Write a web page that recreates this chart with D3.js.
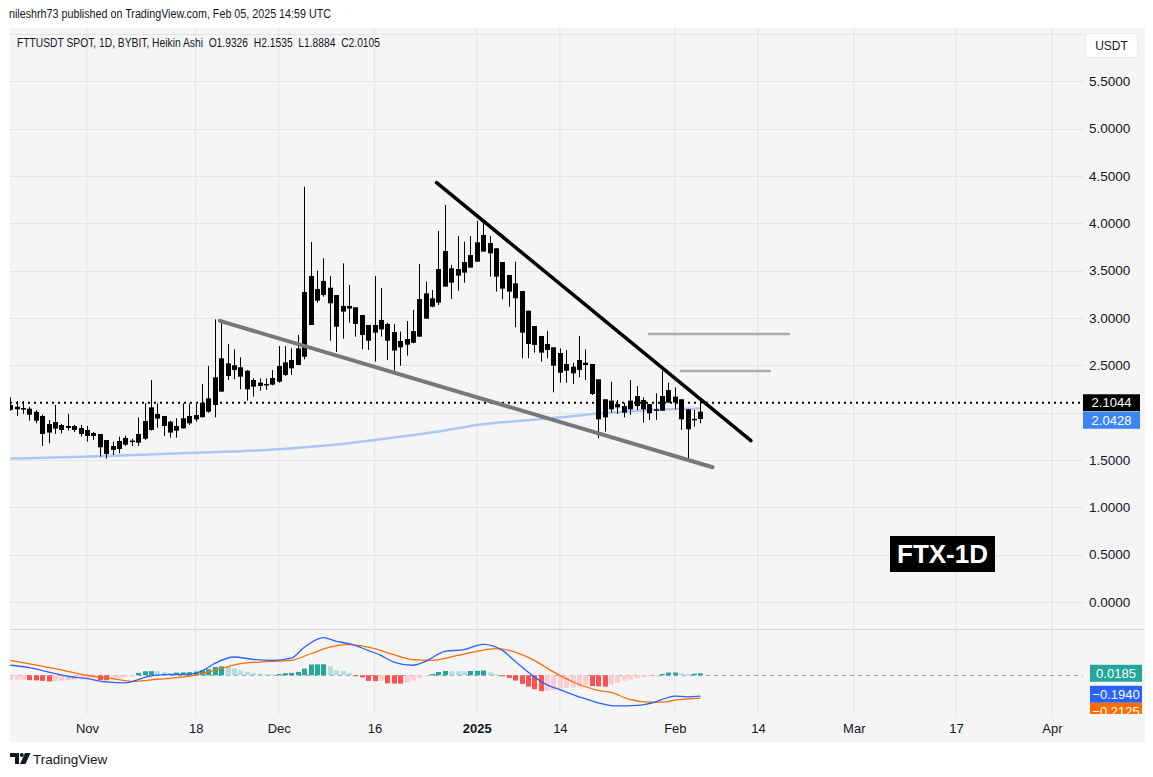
<!DOCTYPE html>
<html><head><meta charset="utf-8">
<script src="https://cdn.jsdelivr.net/npm/d3@7"></script>
<style>
body{margin:0;background:#fff;}
svg{display:block;font-family:"Liberation Sans",Arial,sans-serif;}
.pre{white-space:pre;}
</style></head>
<body><svg id="chart" width="1153" height="777"></svg>
<script>
// ---------- DATA ----------
const startDay = "2024-10-20";
const opens = [2.08,2.063,2.049,2.042,2.01,1.965,1.88,1.831,1.87,1.838,
1.859,1.838,1.817,1.785,1.775,1.711,1.606,1.616,1.662,1.698,
1.683,1.725,1.817,1.937,1.965,1.905,1.81,1.834,1.887,1.929,
1.951,2.01,2.081,2.222,2.521,2.5,2.479,2.443,2.275,2.282,
2.289,2.296,2.327,2.398,2.468,2.503,2.591,2.926,3.306,3.243,
3.32,3.243,3.067,3.099,3.113,3.032,2.926,2.845,2.88,2.937,
2.852,2.757,2.718,2.739,2.803,2.993,3.208,3.162,3.331,3.525,
3.447,3.479,3.532,3.595,3.701,3.792,3.736,3.591,3.454,3.366,
3.285,3.077,2.915,2.81,2.725,2.69,2.63,2.514,2.486,2.45,
2.503,2.514,2.352,2.141,2.035,2.056,2.07,2.035,2.07,2.134,
2.091,2.035,2.021,2.106,2.169,2.141,2.035,1.935,1.9326];
const highs = [2.16,2.123,2.123,2.063,2.028,1.979,1.922,2.081,1.88,1.986,
1.87,1.87,1.859,1.796,1.775,1.711,1.694,1.747,1.757,1.725,
1.95,2.1,2.345,2.098,1.965,1.915,1.94,2.098,2.098,2.091,
2.303,2.493,2.986,2.979,2.725,2.669,2.584,2.45,2.363,2.363,
2.363,2.45,2.704,2.704,2.679,2.82,4.387,3.803,3.5,3.63,
3.444,3.243,3.577,3.348,3.113,3.032,2.926,3.444,3.317,2.951,
2.937,2.856,2.968,3.085,3.57,3.384,3.296,3.919,4.194,3.56,
3.866,3.806,3.866,4.025,4.017,3.866,3.736,3.591,3.454,3.595,
3.285,3.077,2.915,2.81,2.863,2.69,2.679,2.662,2.528,2.81,
2.669,2.514,2.352,2.141,2.327,2.134,2.105,2.345,2.281,2.162,
2.091,2.204,2.443,2.317,2.267,2.141,2.035,2.028,2.1535];
const lows = [2.02,1.965,1.986,1.915,1.887,1.648,1.676,1.775,1.782,1.81,
1.796,1.746,1.694,1.711,1.535,1.514,1.553,1.57,1.648,1.648,
1.648,1.711,1.81,1.841,1.753,1.736,1.736,1.834,1.87,1.905,
1.951,2.0,1.951,2.222,2.345,2.352,2.246,2.127,2.169,2.232,
2.239,2.289,2.317,2.387,2.398,2.503,2.563,2.926,3.162,3.225,
2.76,2.641,2.782,2.951,2.803,2.669,2.662,2.539,2.803,2.556,
2.443,2.496,2.602,2.732,2.803,2.993,3.113,3.137,3.331,3.2,
3.289,3.373,3.532,3.595,3.701,3.437,3.278,3.197,3.12,2.901,
2.574,2.574,2.634,2.539,2.574,2.215,2.317,2.317,2.303,2.373,
2.345,2.186,1.729,1.799,2.0,1.986,1.95,1.975,2.028,1.894,
1.922,1.922,2.021,2.106,2.035,1.817,1.507,1.852,1.8884];
const closes = [2.03,2.035,2.032,1.979,1.915,1.775,1.789,1.901,1.817,1.859,
1.817,1.775,1.754,1.754,1.634,1.563,1.648,1.701,1.733,1.705,
1.775,1.912,2.056,1.986,1.859,1.789,1.859,1.94,1.965,1.975,
2.105,2.151,2.373,2.574,2.387,2.45,2.38,2.246,2.345,2.317,
2.303,2.366,2.493,2.531,2.556,2.679,3.274,3.444,3.183,3.391,
3.155,2.908,3.127,3.127,2.937,2.82,2.76,2.926,2.979,2.76,
2.655,2.69,2.778,2.862,3.2,3.26,3.12,3.517,3.708,3.373,
3.517,3.591,3.665,3.799,3.877,3.683,3.437,3.31,3.278,3.208,
2.845,2.725,2.715,2.634,2.662,2.496,2.422,2.443,2.415,2.556,
2.528,2.197,1.929,1.95,2.127,2.091,2.0,2.127,2.176,2.035,
1.993,2.028,2.176,2.239,2.106,1.929,1.824,1.925,2.0105];

const maDays   = [0,14,30,42,46,52,61,67,73,80,86,92,100,108];
const maValues = [1.515,1.54,1.578,1.613,1.635,1.67,1.745,1.80,1.87,1.915,1.95,1.99,2.028,2.043];

const histValues = [-0.045,-0.044,-0.043,-0.046,-0.048,-0.052,-0.058,-0.054,-0.05,-0.046,
-0.042,-0.038,-0.034,-0.03,-0.045,-0.046,-0.035,-0.025,-0.018,-0.012,
0.022,0.037,0.038,0.036,0.03,0.022,0.025,0.027,0.029,0.034,
0.046,0.056,0.077,0.083,0.082,0.065,0.046,0.031,0.022,0.015,
0.01,0.008,0.012,0.019,0.022,0.031,0.062,0.1,0.101,0.102,
0.083,0.046,0.04,0.022,-0.006,-0.02,-0.052,-0.054,-0.05,-0.075,
-0.077,-0.078,-0.065,-0.05,-0.03,-0.008,0.012,0.03,0.04,0.038,
0.037,0.036,0.04,0.041,0.044,0.028,0.01,-0.01,-0.025,-0.05,
-0.08,-0.105,-0.13,-0.148,-0.145,-0.14,-0.125,-0.12,-0.115,-0.105,
-0.09,-0.1,-0.103,-0.106,-0.085,-0.068,-0.052,-0.038,-0.027,-0.018,
-0.01,-0.004,0.012,0.025,0.026,0.018,0.012,0.015,0.0185];
const macdDays   = [0,3,6,9,12,15,18,20,21,24,28,30,32,35,38,41,44,46,49,51,53,56,58,60,63,65,68,71,74,77,79,82,84,86,89,92,95,98,101,103,104,106,108];
const macdValues = [0.093,0.072,0.03,-0.01,-0.031,-0.062,-0.07,-0.04,-0.02,0.006,0.009,0.04,0.11,0.17,0.148,0.139,0.16,0.26,0.35,0.315,0.293,0.231,0.185,0.123,0.093,0.13,0.222,0.238,0.287,0.231,0.13,-0.015,-0.09,-0.133,-0.2,-0.256,-0.285,-0.28,-0.247,-0.205,-0.194,-0.2,-0.194];
const signalDays   = [0,7,12,16,19,23,28,30,33,36,39,44,47,50,53,57,60,63,66,70,73,76,79,82,85,88,92,94,97,100,102,104,108];
const signalValues = [0.139,0.062,0.0,-0.031,-0.056,-0.037,-0.009,0.015,0.062,0.108,0.123,0.139,0.2,0.262,0.284,0.247,0.191,0.145,0.139,0.185,0.222,0.247,0.216,0.139,0.031,-0.06,-0.14,-0.16,-0.225,-0.25,-0.25,-0.231,-0.2125];

// price-axis labels (2.0000 is hidden behind the value tags in the reference)
const priceTicks = [0,0.5,1,1.5,2.5,3,3.5,4,4.5,5,5.5];
const priceGrid  = [0,0.5,1,1.5,2,2.5,3,3.5,4,4.5,5,5.5,6];
const timeTicks  = ["2024-11-01","2024-11-18","2024-12-01","2024-12-16","2025-01-01","2025-01-14","2025-02-01","2025-02-14","2025-03-01","2025-03-17","2025-04-01"];
const timeLabels = ["Nov","18","Dec","16","2025","14","Feb","14","Mar","17","Apr"];

const trendUpper = [["2024-12-25T17:00:00Z",4.43],["2025-02-12T21:30:00Z",1.704]];
const trendLower = [["2024-11-21T19:00:00Z",2.97],["2025-02-06T21:30:00Z",1.423]];
const levelHigh  = [["2025-01-27T19:00:00Z",2.83],["2025-02-19T00:00:00Z",2.83]];
const levelLow   = [["2025-02-01T19:00:00Z",2.44],["2025-02-16T00:00:00Z",2.44]];

const lastPrice = 2.1044, maLast = 2.0428;
const histLast = 0.0185, macdLast = -0.1940, signalLast = -0.2125;
const titleText = "nileshrh73 published on TradingView.com, Feb 05, 2025 14:59 UTC";
const legendText = "FTTUSDT SPOT, 1D, BYBIT, Heikin Ashi";
const ohlcText = ["O1.9326","H2.1535","L1.8884","C2.0105"];
const tagText = "FTX-1D";

// ---------- LAYOUT ----------
const W = 1153, H = 777;
const L = 10, R = 1083, AX = 1145;
const T = 28, MB = 629, MACDB = 714, BOT = 742;

const svg = d3.select("#chart");
const dayMs = 864e5;
const t0 = Date.parse(startDay + "T00:00:00Z");
const dayDate = i => new Date(t0 + i * dayMs);

const x = d3.scaleUtc()
  .domain([new Date("2024-11-01T00:00:00Z"), new Date("2025-04-01T00:00:00Z")])
  .range([87, 1051.9]);
const y = d3.scaleLinear().domain([0, 5.5]).range([602, 81.3]);
const ym = d3.scaleLinear().domain([-0.36, 0.43]).range([MACDB, MB]);

// backgrounds
svg.append("rect").attr("width", W).attr("height", H).attr("fill", "#ffffff");
svg.append("rect").attr("x", L).attr("y", T).attr("width", AX - L).attr("height", BOT - T).attr("fill", "#f5f5f5");

const defs = svg.append("defs");
defs.append("clipPath").attr("id", "clipMain").append("rect").attr("x", L).attr("y", T).attr("width", R - L).attr("height", MB - T);
defs.append("clipPath").attr("id", "clipMacd").append("rect").attr("x", L).attr("y", MB).attr("width", R - L).attr("height", MACDB - MB);
defs.append("clipPath").attr("id", "clipAxis").append("rect").attr("x", L).attr("y", T).attr("width", AX - L).attr("height", MACDB - T);

// grid
const tickDates = timeTicks.map(s => new Date(s + "T00:00:00Z"));
const grid = svg.append("g");
grid.selectAll("line.v").data(tickDates).join("line")
  .attr("x1", d => x(d)).attr("x2", d => x(d)).attr("y1", T).attr("y2", MACDB)
  .attr("stroke", "#e4e4e4").attr("stroke-width", 1);
grid.append("g").attr("clip-path", "url(#clipMain)").selectAll("line").data(priceGrid).join("line")
  .attr("x1", L).attr("x2", R).attr("y1", d => Math.round(y(d)) + 0.5).attr("y2", d => Math.round(y(d)) + 0.5)
  .attr("stroke", "#e4e4e4").attr("stroke-width", 1);

// pane separator
svg.append("line").attr("x1", L).attr("x2", AX).attr("y1", MB + 0.5).attr("y2", MB + 0.5)
  .attr("stroke", "#d3d5db").attr("stroke-width", 1);

// ---------- MAIN PANE ----------
const main = svg.append("g").attr("clip-path", "url(#clipMain)");
const candles = opens.map((o, i) => ({d: dayDate(i), o, h: highs[i], l: lows[i], c: closes[i]}));

// moving average
const maLine = d3.line().x(d => x(dayDate(d[0]))).y(d => y(d[1])).curve(d3.curveMonotoneX);
main.append("path").datum(maDays.map((d, i) => [d, maValues[i]]))
  .attr("d", maLine).attr("fill", "none").attr("stroke", "#a9c7f7").attr("stroke-width", 2.5);

// last price dotted line
main.append("line").attr("x1", L).attr("x2", R).attr("y1", y(lastPrice)).attr("y2", y(lastPrice))
  .attr("stroke", "#000").attr("stroke-width", 2).attr("stroke-dasharray", "2 4");

// candles
const cg = main.append("g");
cg.selectAll("line").data(candles).join("line")
  .attr("x1", d => Math.round(x(d.d)) + 0.5).attr("x2", d => Math.round(x(d.d)) + 0.5)
  .attr("y1", d => y(d.h)).attr("y2", d => y(d.l))
  .attr("stroke", "#000").attr("stroke-width", 1);
cg.selectAll("rect").data(candles).join("rect")
  .attr("x", d => Math.round(x(d.d)) - 2).attr("width", 5)
  .attr("y", d => y(Math.max(d.o, d.c)))
  .attr("height", d => Math.max(1.5, Math.abs(y(d.o) - y(d.c))))
  .attr("fill", "#000");

// drawings
const segLine = d3.line().x(d => x(new Date(d[0]))).y(d => y(d[1]));
main.append("path").datum(levelHigh).attr("d", segLine).attr("stroke", "#adadad").attr("stroke-width", 2.5).attr("fill", "none");
main.append("path").datum(levelLow).attr("d", segLine).attr("stroke", "#adadad").attr("stroke-width", 2.5).attr("fill", "none");
main.append("path").datum(trendLower).attr("d", segLine).attr("stroke", "#787878").attr("stroke-width", 4).attr("stroke-linecap", "round").attr("fill", "none");
main.append("path").datum(trendUpper).attr("d", segLine).attr("stroke", "#000").attr("stroke-width", 3.5).attr("stroke-linecap", "round").attr("fill", "none");

// price axis
const yAxis = d3.axisRight(y).tickValues(priceTicks).tickFormat(d3.format(".4f")).tickSize(0).tickPadding(0);
const ya = svg.append("g").attr("transform", `translate(${R + 6},0)`).call(yAxis);
ya.select(".domain").remove();
ya.selectAll("text").attr("font-size", 13.5).attr("fill", "#131722").attr("font-family", "Liberation Sans, Arial, sans-serif");

// USDT box
svg.append("rect").attr("x", 1085.5).attr("y", 33.5).attr("width", 52).attr("height", 24).attr("rx", 4)
  .attr("fill", "#ffffff").attr("stroke", "#ececec");
svg.append("text").attr("x", 1111.5).attr("y", 50).attr("text-anchor", "middle").attr("font-size", 12).attr("fill", "#131722").text("USDT");

// value tags (main)
[[y(lastPrice), "#000000", d3.format(".4f")(lastPrice)],
 [y(lastPrice) + 17.5, "#3d85f0", d3.format(".4f")(maLast)]].forEach(([cy, fill, t]) => {
  svg.append("rect").attr("x", R).attr("y", cy - 8.5).attr("width", 57).attr("height", 17).attr("fill", fill);
  svg.append("text").attr("x", R + 28.5).attr("y", cy + 4.5).attr("text-anchor", "middle")
    .attr("font-size", 13).attr("fill", "#fff").text(t);
});

// FTX-1D tag
const tagG = svg.append("g");
tagG.append("rect").attr("x", 890).attr("y", 536).attr("width", 105).attr("height", 36).attr("fill", "#000");
tagG.append("text").attr("x", 942.5).attr("y", 563).attr("text-anchor", "middle")
  .attr("font-size", 26).attr("font-weight", "bold").attr("fill", "#fff").text(tagText);

// ---------- MACD PANE ----------
const mg = svg.append("g").attr("clip-path", "url(#clipMacd)");
mg.append("line").attr("x1", L).attr("x2", R).attr("y1", Math.round(ym(0)) + 0.5).attr("y2", Math.round(ym(0)) + 0.5)
  .attr("stroke", "#a3a3a3").attr("stroke-width", 1).attr("stroke-dasharray", "4 4");
mg.selectAll("rect").data(histValues).join("rect")
  .attr("x", (v, i) => Math.round(x(dayDate(i))) - 2).attr("width", 5)
  .attr("y", v => v >= 0 ? ym(v) : ym(0))
  .attr("height", v => Math.max(1, Math.abs(ym(v) - ym(0))))
  .attr("fill", (v, i) => {
    const p = i > 0 ? histValues[i - 1] : v;
    if (v >= 0) return v > p ? "#26a69a" : "#b2dfdb";
    return v < p ? "#ff5252" : "#ffcdd2";
  });
const mLine = d3.line().x(d => x(dayDate(d[0]))).y(d => ym(d[1])).curve(d3.curveMonotoneX);
mg.append("path").datum(signalDays.map((d, i) => [d, signalValues[i]]))
  .attr("d", mLine).attr("fill", "none").attr("stroke", "#ff6d00").attr("stroke-width", 1.3);
mg.append("path").datum(macdDays.map((d, i) => [d, macdValues[i]]))
  .attr("d", mLine).attr("fill", "none").attr("stroke", "#2962ff").attr("stroke-width", 1.3);

// MACD tags
(function(){
  const g = svg.append("g").attr("clip-path", "url(#clipAxis)");
  const items = [[ym(histLast), "#26a69a", d3.format(".4f")(histLast)],
                 [ym(histLast) + 21, "#2962ff", "\u2212" + d3.format(".4f")(-macdLast)],
                 [ym(histLast) + 38, "#ff6d00", "\u2212" + d3.format(".4f")(-signalLast)]];
  items.forEach(([cy, fill, t]) => {
    g.append("rect").attr("x", 1090).attr("y", cy - 8.5).attr("width", 52).attr("height", 17).attr("fill", fill);
    g.append("text").attr("x", 1116).attr("y", cy + 4.5).attr("text-anchor", "middle")
      .attr("font-size", 13).attr("fill", "#fff").text(t);
  });
})();

// ---------- TIME AXIS ----------
const xAxis = d3.axisBottom(x).tickValues(tickDates).tickFormat((d, i) => timeLabels[i]).tickSize(0).tickPadding(10);
const xa = svg.append("g").attr("transform", `translate(0,${MACDB})`).call(xAxis);
xa.select(".domain").remove();
xa.selectAll("text").attr("font-size", 13).attr("fill", "#131722")
  .attr("font-family", "Liberation Sans, Arial, sans-serif")
  .attr("font-weight", (d, i) => timeLabels[i] === "2025" ? "bold" : null);

// ---------- HEADER ----------
svg.append("text").attr("x", 9).attr("y", 18).attr("font-size", 12).attr("fill", "#131722")
  .attr("textLength", 322).attr("lengthAdjust", "spacingAndGlyphs").text(titleText);
svg.append("text").attr("class", "pre").attr("x", 17).attr("y", 47).attr("font-size", 12).attr("fill", "#131722")
  .attr("textLength", 363).attr("lengthAdjust", "spacingAndGlyphs")
  .text(legendText + "  " + ohlcText.join("  "));

// ---------- FOOTER LOGO ----------
const logo = svg.append("g").attr("fill", "#131722");
logo.append("path").attr("d", "M10,753 h9 v11 h-4 v-7 h-5 z");
logo.append("circle").attr("cx", 21.8).attr("cy", 755).attr("r", 2);
logo.append("path").attr("d", "M25,753 h5.5 l-5,11 h-5.5 z");
svg.append("text").attr("x", 33).attr("y", 764).attr("font-size", 13.5).attr("fill", "#131722").text("TradingView");
</script></body></html>
